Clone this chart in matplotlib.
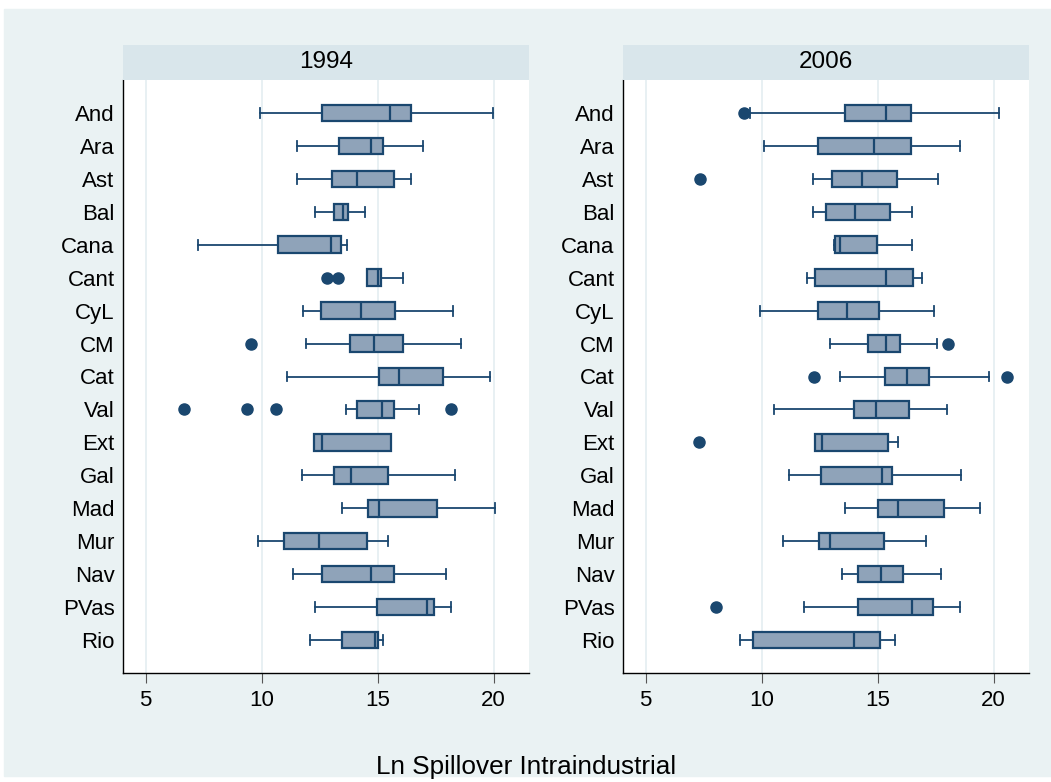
import matplotlib
matplotlib.use('Agg')
import matplotlib.pyplot as plt
from matplotlib.patches import Rectangle

plt.rcParams['font.family'] = ['Liberation Sans', 'DejaVu Sans']

regions = ['And', 'Ara', 'Ast', 'Bal', 'Cana', 'Cant', 'CyL', 'CM', 'Cat',
           'Val', 'Ext', 'Gal', 'Mad', 'Mur', 'Nav', 'PVas', 'Rio']
years = ['1994', '2006']
xticks = [5, 10, 15, 20]

# 1994
lo_94 = [9.93, 11.54, 11.51, 12.29, 7.28, 14.55, 11.81, 11.93, 11.11,
         13.66, 12.26, 11.76, 13.45, 9.84, 11.35, 12.29, 12.11]
q1_94 = [12.60, 13.34, 13.04, 13.14, 10.73, 14.55, 12.58, 13.80, 15.07,
         14.13, 12.26, 13.14, 14.58, 10.96, 12.59, 14.98, 13.48]
med_94 = [15.56, 14.71, 14.13, 13.51, 13.01, 15.04, 14.27, 14.85, 15.93,
          15.21, 12.60, 13.84, 15.08, 12.46, 14.74, 17.13, 14.88]
q3_94 = [16.43, 15.22, 15.71, 13.73, 13.42, 15.17, 15.74, 16.08, 17.83,
         15.73, 15.58, 15.47, 17.57, 14.53, 15.69, 17.42, 15.04]
hi_94 = [19.96, 16.94, 16.43, 14.46, 13.67, 16.08, 18.24, 18.59, 19.86,
         16.81, 15.58, 18.34, 20.06, 15.44, 17.95, 18.16, 15.22]
out_94 = [[], [], [], [], [], [12.84, 13.29], [], [9.54], [],
          [6.66, 9.39, 10.63, 18.16], [], [], [], [], [], [], []]

# 2006
lo_06 = [9.50, 10.12, 12.24, 12.21, 13.11, 11.94, 9.94, 12.95, 13.37,
         10.53, 12.30, 11.20, 13.61, 10.93, 13.48, 11.85, 9.08]
q1_06 = [13.59, 12.42, 13.04, 12.78, 13.18, 12.29, 12.42, 14.58, 15.33,
         14.00, 12.30, 12.55, 15.03, 12.49, 14.15, 14.15, 9.65]
med_06 = [15.38, 14.87, 14.32, 14.05, 13.40, 15.38, 13.69, 15.38, 16.26,
          14.93, 12.62, 15.20, 15.90, 12.95, 15.14, 16.49, 13.99]
q3_06 = [16.46, 16.43, 15.84, 15.56, 14.99, 16.52, 15.07, 15.97, 17.24,
         16.36, 15.46, 15.64, 17.86, 15.27, 16.10, 17.38, 15.10]
hi_06 = [20.22, 18.54, 17.60, 16.47, 16.47, 16.93, 17.45, 17.55, 19.81,
         18.00, 15.88, 18.58, 19.43, 17.11, 17.73, 18.54, 15.75]
out_06 = [[9.26], [], [7.34], [], [], [], [], [18.06], [12.27, 20.58],
          [], [7.29], [], [], [], [], [8.03], []]

navy = '#1a476f'
boxfill = '#8fa3b9'
bg = '#eaf2f3'
strip = '#d9e6eb'

W, H = 1051, 782
fig = plt.figure(figsize=(W / 100, H / 100), dpi=100)
fig.patch.set_facecolor('white')
fig.add_artist(Rectangle((4 / W, 6 / H), (W - 4) / W, 767 / H,
                         transform=fig.transFigure, color=bg, zorder=-10))

panels = [(lo_94, q1_94, med_94, q3_94, hi_94, out_94),
          (lo_06, q1_06, med_06, q3_06, hi_06, out_06)]
lefts = [123, 623]
pw = 406
top, bottom = 80, 673

for year, left, (lo, q1, med, q3, hi, out) in zip(years, lefts, panels):
    ax = fig.add_axes([left / W, (H - bottom) / H, pw / W, (bottom - top) / H])
    ax.set_facecolor('white')
    stats = []
    for i in range(len(regions)):
        stats.append(dict(whislo=lo[i], q1=q1[i], med=med[i], q3=q3[i],
                          whishi=hi[i], fliers=out[i]))
    ax.bxp(stats, positions=range(1, len(regions) + 1), vert=False,
           widths=0.5, capwidths=0.3, patch_artist=True,
           boxprops=dict(facecolor=boxfill, edgecolor=navy, linewidth=1.6),
           medianprops=dict(color=navy, linewidth=1.6),
           whiskerprops=dict(color=navy, linewidth=1.3),
           capprops=dict(color=navy, linewidth=1.3),
           flierprops=dict(marker='o', markerfacecolor=navy,
                           markeredgecolor=navy, markersize=8))
    ax.set_ylim(len(regions) + 1, 0)
    ax.set_yticks(range(1, len(regions) + 1))
    ax.set_yticklabels(regions)
    ax.set_xlim(4.03, 21.53)
    ax.set_xticks(xticks)
    ax.set_axisbelow(True)
    ax.grid(axis='x', color='#e4eef1', linewidth=1.2)
    ax.tick_params(axis='y', length=0, pad=6, labelsize=16)
    ax.tick_params(axis='x', length=7, width=0.8, color='#555555', pad=5,
                   labelsize=16)
    for s in ['top', 'right']:
        ax.spines[s].set_visible(False)
    for s in ['left', 'bottom']:
        ax.spines[s].set_color('black')
        ax.spines[s].set_linewidth(1.0)

    sax = fig.add_axes([left / W, (H - top) / H, pw / W, 35 / H])
    sax.set_facecolor(strip)
    sax.set_xticks([])
    sax.set_yticks([])
    for s in sax.spines.values():
        s.set_visible(False)
    sax.text(0.5, 0.5, year, ha='center', va='center', fontsize=17.5,
             transform=sax.transAxes)

fig.text(526 / W, (H - 774) / H, 'Ln Spillover Intraindustrial',
         ha='center', va='baseline', fontsize=18.8)

plt.savefig('out.png', dpi=100, facecolor='white')
